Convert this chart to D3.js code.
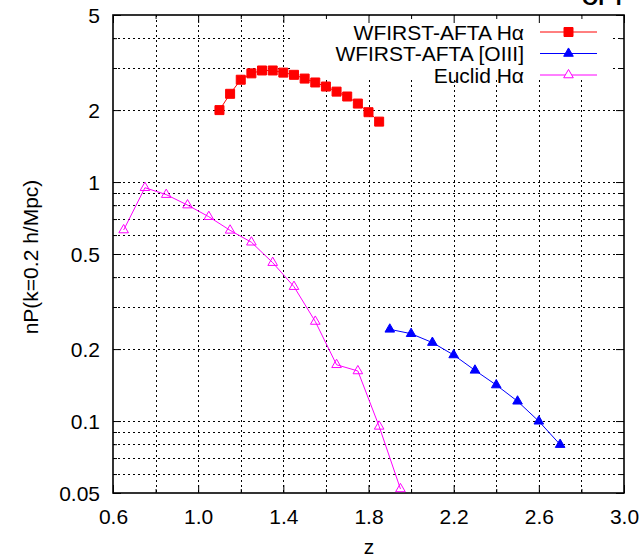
<!DOCTYPE html>
<html>
<head>
<meta charset="utf-8">
<script src="https://cdn.jsdelivr.net/npm/d3@7"></script>
<style>
  html, body { margin: 0; padding: 0; background: #fff; }
  svg { display: block; font-family: "Liberation Sans", Arial, sans-serif; }
</style>
</head>
<body>
<svg id="chart" width="642" height="557"></svg>
<script>
// ---- data ----
const wfirstHaZ = [1.10, 1.15, 1.20, 1.25, 1.30, 1.35, 1.40, 1.45, 1.50, 1.55, 1.60, 1.65, 1.70, 1.75, 1.80, 1.85];
const wfirstHaNP = [2.00, 2.34, 2.68, 2.85, 2.93, 2.93, 2.87, 2.81, 2.71, 2.61, 2.51, 2.39, 2.28, 2.13, 1.96, 1.79];

const wfirstOIIIZ = [1.9, 2.0, 2.1, 2.2, 2.3, 2.4, 2.5, 2.6, 2.7];
const wfirstOIIINP = [0.242, 0.232, 0.213, 0.189, 0.163, 0.1415, 0.121, 0.0998, 0.0797];

const euclidHaZ = [0.65, 0.75, 0.85, 0.95, 1.05, 1.15, 1.25, 1.35, 1.45, 1.55, 1.65, 1.75, 1.85, 1.95];
const euclidHaNP = [0.63, 0.947, 0.886, 0.801, 0.716, 0.628, 0.56, 0.46, 0.365, 0.261, 0.172, 0.162, 0.095, 0.052];

const xMajorTicks = [0.6, 1.0, 1.4, 1.8, 2.2, 2.6, 3.0];
const xTickLabels = ["0.6", "1.0", "1.4", "1.8", "2.2", "2.6", "3.0"];
const xMinorTicks = [0.8, 1.2, 1.6, 2.0, 2.4, 2.8];
const yMajorTicks = [0.05, 0.1, 0.2, 0.5, 1, 2, 5];
const yTickLabels = ["0.05", "0.1", "0.2", "0.5", "1", "2", "5"];
const yMinorTicks = [0.06, 0.07, 0.08, 0.09, 0.3, 0.4, 0.6, 0.7, 0.8, 0.9, 3, 4];

const seriesNames = ["WFIRST-AFTA H\u03b1", "WFIRST-AFTA [OIII]", "Euclid H\u03b1"];
const seriesColors = ["#ff0000", "#0000ff", "#ff00ff"];

// ---- layout ----
const L = 113, R = 624, T = 15, B = 493;
const svg = d3.select("#chart");
const x = d3.scaleLinear().domain([0.6, 3.0]).range([L, R]);
const y = d3.scaleLog().domain([0.05, 5]).range([B, T]);

// grid
const grid = svg.append("g").attr("stroke", "#000").attr("stroke-width", 1)
  .attr("stroke-dasharray", "2,3");
const xGridVals = xMajorTicks.concat(xMinorTicks).filter(v => v > 0.6 && v < 3.0);
grid.selectAll("line.vx").data(xGridVals).join("line")
  .attr("x1", d => Math.round(x(d)) + 0.5).attr("x2", d => Math.round(x(d)) + 0.5)
  .attr("y1", T).attr("y2", B);
const yGridVals = yMajorTicks.concat(yMinorTicks).filter(v => v > 0.05 && v < 5);
grid.selectAll("line.hy").data(yGridVals).join("line")
  .attr("y1", d => Math.round(y(d)) + 0.5).attr("y2", d => Math.round(y(d)) + 0.5)
  .attr("x1", L).attr("x2", R);

// legend opaque box
svg.append("rect").attr("x", 290).attr("y", T + 1).attr("width", 322).attr("height", 64)
  .attr("fill", "#fff");

// axes (ticks inward)
const fs = 21;
function styleAxis(g, withLabels) {
  g.select(".domain").remove();
  g.selectAll(".tick line").attr("stroke", "#000").attr("stroke-width", 1);
  g.selectAll(".tick text").attr("font-size", fs).attr("fill", "#000")
    .attr("font-family", "'Liberation Sans', Arial, sans-serif");
  if (!withLabels) g.selectAll(".tick text").remove();
}
const xb = svg.append("g").attr("transform", `translate(0,${B})`)
  .call(d3.axisBottom(x).tickValues(xMajorTicks).tickSizeInner(-8).tickSizeOuter(0).tickPadding(16)
    .tickFormat((d, i) => xTickLabels[i]));
styleAxis(xb, true);
const xbm = svg.append("g").attr("transform", `translate(0,${B})`)
  .call(d3.axisBottom(x).tickValues(xMinorTicks).tickSizeInner(-4).tickSizeOuter(0));
styleAxis(xbm, false);
const xt = svg.append("g").attr("transform", `translate(0,${T})`)
  .call(d3.axisTop(x).tickValues(xMajorTicks).tickSizeInner(-8).tickSizeOuter(0));
styleAxis(xt, false);
const xtm = svg.append("g").attr("transform", `translate(0,${T})`)
  .call(d3.axisTop(x).tickValues(xMinorTicks).tickSizeInner(-4).tickSizeOuter(0));
styleAxis(xtm, false);

const yl = svg.append("g").attr("transform", `translate(${L},0)`)
  .call(d3.axisLeft(y).tickValues(yMajorTicks).tickSizeInner(-8).tickSizeOuter(0).tickPadding(13)
    .tickFormat((d, i) => yTickLabels[i]));
styleAxis(yl, true);
yl.selectAll(".tick text").attr("dy", "0.36em");
const ylm = svg.append("g").attr("transform", `translate(${L},0)`)
  .call(d3.axisLeft(y).tickValues(yMinorTicks).tickSizeInner(-4).tickSizeOuter(0));
styleAxis(ylm, false);
const yr = svg.append("g").attr("transform", `translate(${R},0)`)
  .call(d3.axisRight(y).tickValues(yMajorTicks).tickSizeInner(-8).tickSizeOuter(0));
styleAxis(yr, false);
const yrm = svg.append("g").attr("transform", `translate(${R},0)`)
  .call(d3.axisRight(y).tickValues(yMinorTicks).tickSizeInner(-4).tickSizeOuter(0));
styleAxis(yrm, false);

// border
svg.append("rect").attr("x", L).attr("y", T).attr("width", R - L).attr("height", B - T)
  .attr("fill", "none").attr("stroke", "#000").attr("stroke-width", 1.6);

// axis labels
svg.append("text").attr("x", 369).attr("y", 554).attr("text-anchor", "middle")
  .attr("font-size", fs).text("z");
svg.append("text").attr("transform", "translate(38,257) rotate(-90)").attr("text-anchor", "middle")
  .attr("font-size", fs).text("nP(k=0.2 h/Mpc)");
svg.append("text").attr("x", 582).attr("y", 4.5).attr("font-size", fs).attr("font-weight", "bold")
  .text("OPT");

// series
const line = d3.line().x(d => x(d[0])).y(d => y(d[1]));
const tri = d3.symbol().type(d3.symbolTriangle).size(40);
const sq = d3.symbol().type(d3.symbolSquare).size(81);

function drawSeries(zs, vs, color, kind) {
  const pts = zs.map((z, i) => [z, vs[i]]);
  svg.append("path").datum(pts).attr("d", line).attr("fill", "none")
    .attr("stroke", color).attr("stroke-width", 1);
  svg.append("g").selectAll("path").data(pts).join("path")
    .attr("transform", d => `translate(${x(d[0])},${y(d[1])})`)
    .attr("d", kind === "square" ? sq : tri)
    .attr("fill", kind === "open" ? "none" : color)
    .attr("stroke", color).attr("stroke-width", 1);
}
drawSeries(wfirstHaZ, wfirstHaNP, seriesColors[0], "square");
drawSeries(wfirstOIIIZ, wfirstOIIINP, seriesColors[1], "triangle");
drawSeries(euclidHaZ, euclidHaNP, seriesColors[2], "open");

// legend
const kinds = ["square", "triangle", "open"];
const rowY = [32, 53.5, 75];
seriesNames.forEach((name, i) => {
  const g = svg.append("g");
  g.append("text").attr("x", 524).attr("y", rowY[i] + 7.5).attr("text-anchor", "end")
    .attr("font-size", fs).text(name);
  g.append("line").attr("x1", 540).attr("x2", 597).attr("y1", rowY[i]).attr("y2", rowY[i])
    .attr("stroke", seriesColors[i]).attr("stroke-width", 1);
  g.append("path").attr("transform", `translate(568.5,${rowY[i]})`)
    .attr("d", kinds[i] === "square" ? sq : tri)
    .attr("fill", kinds[i] === "open" ? "#fff" : seriesColors[i])
    .attr("stroke", seriesColors[i]).attr("stroke-width", 1);
});
</script>
</body>
</html>
